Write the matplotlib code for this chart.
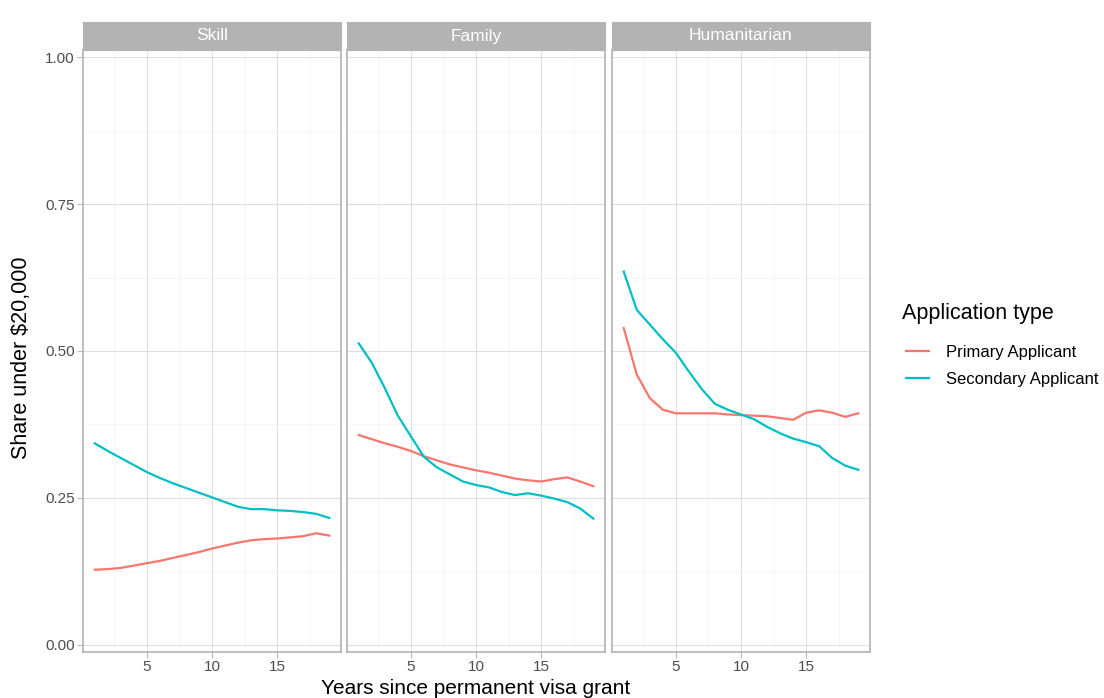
import matplotlib
matplotlib.use("Agg")
import matplotlib.pyplot as plt
import numpy as np

plt.rcParams['font.family'] = ['Liberation Sans', 'DejaVu Sans']

years = list(range(1, 20))
facets = ["Skill", "Family", "Humanitarian"]

skill_primary = [0.128, 0.129, 0.131, 0.135, 0.139, 0.143, 0.148, 0.153, 0.158, 0.164,
                 0.169, 0.174, 0.178, 0.180, 0.181, 0.183, 0.185, 0.190, 0.186]
skill_secondary = [0.343, 0.330, 0.318, 0.306, 0.294, 0.284, 0.275, 0.267, 0.259, 0.251,
                   0.243, 0.235, 0.231, 0.231, 0.229, 0.228, 0.226, 0.223, 0.216]
family_primary = [0.357, 0.350, 0.343, 0.337, 0.330, 0.321, 0.314, 0.307, 0.302, 0.297,
                  0.293, 0.288, 0.283, 0.280, 0.278, 0.282, 0.285, 0.278, 0.270]
family_secondary = [0.513, 0.480, 0.437, 0.390, 0.355, 0.320, 0.302, 0.290, 0.278, 0.272,
                    0.268, 0.260, 0.255, 0.258, 0.254, 0.249, 0.243, 0.232, 0.215]
human_primary = [0.539, 0.460, 0.420, 0.400, 0.394, 0.394, 0.394, 0.394, 0.392, 0.391,
                 0.390, 0.389, 0.386, 0.383, 0.395, 0.399, 0.395, 0.388, 0.394]
human_secondary = [0.635, 0.570, 0.545, 0.520, 0.497, 0.465, 0.435, 0.410, 0.400, 0.392,
                   0.384, 0.371, 0.360, 0.351, 0.345, 0.338, 0.318, 0.305, 0.298]

primary = [skill_primary, family_primary, human_primary]
secondary = [skill_secondary, family_secondary, human_secondary]

red = "#F8766D"
teal = "#00BFC4"
grid_col = "#DEDEDE"
border_col = "#B3B3B3"
tick_col = "#4D4D4D"

W, H = 1104, 698
fig = plt.figure(figsize=(W / 100, H / 100), dpi=100)

lefts = [83, 347, 612]
pw = 258
ptop, pbot = 50, 652
strip_h = 28

axes = []
for i, name in enumerate(facets):
    ax = fig.add_axes([lefts[i] / W, 1 - pbot / H, pw / W, (pbot - ptop) / H])
    axes.append(ax)
    ax.set_xlim(0.1, 19.9)
    ax.set_ylim(-0.012, 1.012)
    ax.set_xticks([5, 10, 15])
    ax.set_xticks([2.5, 7.5, 12.5, 17.5], minor=True)
    ax.set_yticks([0, 0.25, 0.5, 0.75, 1.0])
    ax.set_yticks([0.125, 0.375, 0.625, 0.875], minor=True)
    ax.grid(which='major', color=grid_col, linewidth=0.7)
    ax.grid(which='minor', color="#EEEEEE", linewidth=0.4)
    ax.set_axisbelow(True)
    for sp in ax.spines.values():
        sp.set_color(border_col)
        sp.set_linewidth(1.2)
    ax.tick_params(which='major', colors=border_col, labelcolor=tick_col,
                   labelsize=11, length=4, width=0.7, pad=2)
    ax.tick_params(which='minor', length=0)
    if i == 0:
        ax.set_yticklabels(["0.00", "0.25", "0.50", "0.75", "1.00"])
    else:
        ax.tick_params(axis='y', labelleft=False, length=0)

    ax.plot(years, primary[i], color=red, linewidth=1.6, label="Primary Applicant")
    ax.plot(years, secondary[i], color=teal, linewidth=1.6, label="Secondary Applicant")

    sax = fig.add_axes([lefts[i] / W, 1 - ptop / H, pw / W, strip_h / H])
    sax.set_facecolor(border_col)
    sax.set_xticks([])
    sax.set_yticks([])
    for sp in sax.spines.values():
        sp.set_color(border_col)
    sax.text(0.5, 0.5, name, color="white", fontsize=12.5, ha='center', va='center',
             transform=sax.transAxes)

fig.text(22 / W, 1 - 358 / H, "Share under $20,000", rotation=90, ha='center', va='center',
         fontsize=15.5, color='black')
fig.text(476 / W, 1 - 688 / H, "Years since permanent visa grant", ha='center', va='center',
         fontsize=15, color='black')

fig.text(902 / W, 1 - 313 / H, "Application type", ha='left', va='center',
         fontsize=15.5, color='black')
handles, labels = axes[0].get_legend_handles_labels()
leg = fig.legend(handles, labels, loc='upper left',
                 bbox_to_anchor=(899 / W, 1 - 338 / H), frameon=False, fontsize=12,
                 handlelength=1.4, handletextpad=1.0,
                 labelspacing=0.72, borderaxespad=0)

fig.savefig("out.png", dpi=100)
